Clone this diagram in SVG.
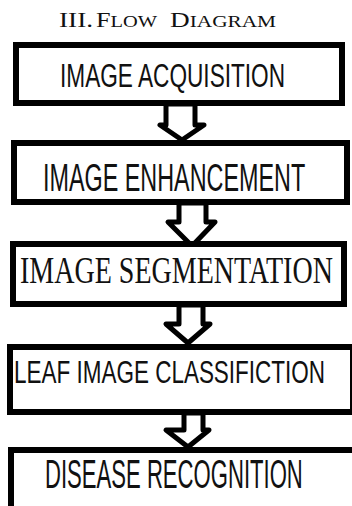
<svg xmlns="http://www.w3.org/2000/svg" width="352" height="506" viewBox="0 0 352 506">
<style>
.box{fill:#fff;stroke:#000;stroke-width:6}
.arr{fill:#fff;stroke:#000;stroke-width:5;stroke-linejoin:round}
.sans{font-family:"Liberation Sans",Arial,sans-serif;fill:#111}
.serif{font-family:"Liberation Serif","Times New Roman",serif;fill:#111}
</style>
<rect width="352" height="506" fill="#fff"/>
<text class="serif" y="27" font-size="20.5"><tspan x="59" textLength="34" lengthAdjust="spacingAndGlyphs">III.</tspan><tspan x="96" textLength="61" lengthAdjust="spacingAndGlyphs">F<tspan font-size="16">LOW</tspan></tspan><tspan x="170" textLength="106" lengthAdjust="spacingAndGlyphs">D<tspan font-size="16">IAGRAM</tspan></tspan></text>
<g id="connectors">
<polygon class="arr" points="166,104 195,104 195,125 204,125 182,140 160,125 166,125"/>
<polygon class="arr" points="179,203 206,203 206,222 215,222 192,246 168,222 179,222"/>
<polygon class="arr" points="179,305 203,305 203,324 210,324 188,343 166,324 179,324"/>
<polygon class="arr" points="184,413 203,413 203,430 209,430 188,447 166,430 184,430"/>
</g>
<g id="n1"><rect class="box" x="16" y="45" width="326" height="58"/>
<text class="sans" transform="translate(60,87) scale(0.662,1)" font-size="34" textLength="340" lengthAdjust="spacingAndGlyphs">IMAGE ACQUISITION</text></g>
<g id="n2"><rect class="box" x="14" y="143" width="333" height="59"/>
<text class="sans" transform="translate(43,191) scale(0.599,1)" font-size="39" textLength="437.7" lengthAdjust="spacingAndGlyphs">IMAGE ENHANCEMENT</text></g>
<g id="n3"><rect class="box" x="13" y="244" width="331" height="60"/>
<text class="serif" transform="translate(20,283) scale(0.745,1)" font-size="37" textLength="420" lengthAdjust="spacingAndGlyphs">IMAGE SEGMENTATION</text></g>
<g id="n4"><rect class="box" x="10" y="347" width="343" height="65"/>
<text class="sans" transform="translate(14,383) scale(0.715,1)" font-size="31" textLength="435" lengthAdjust="spacingAndGlyphs">LEAF IMAGE CLASSIFICTION</text></g>
<g id="n5"><rect class="box" x="11" y="450" width="345" height="64"/>
<text class="sans" transform="translate(45,488) scale(0.543,1)" font-size="40" textLength="474.8" lengthAdjust="spacingAndGlyphs">DISEASE RECOGNITION</text></g>
</svg>
